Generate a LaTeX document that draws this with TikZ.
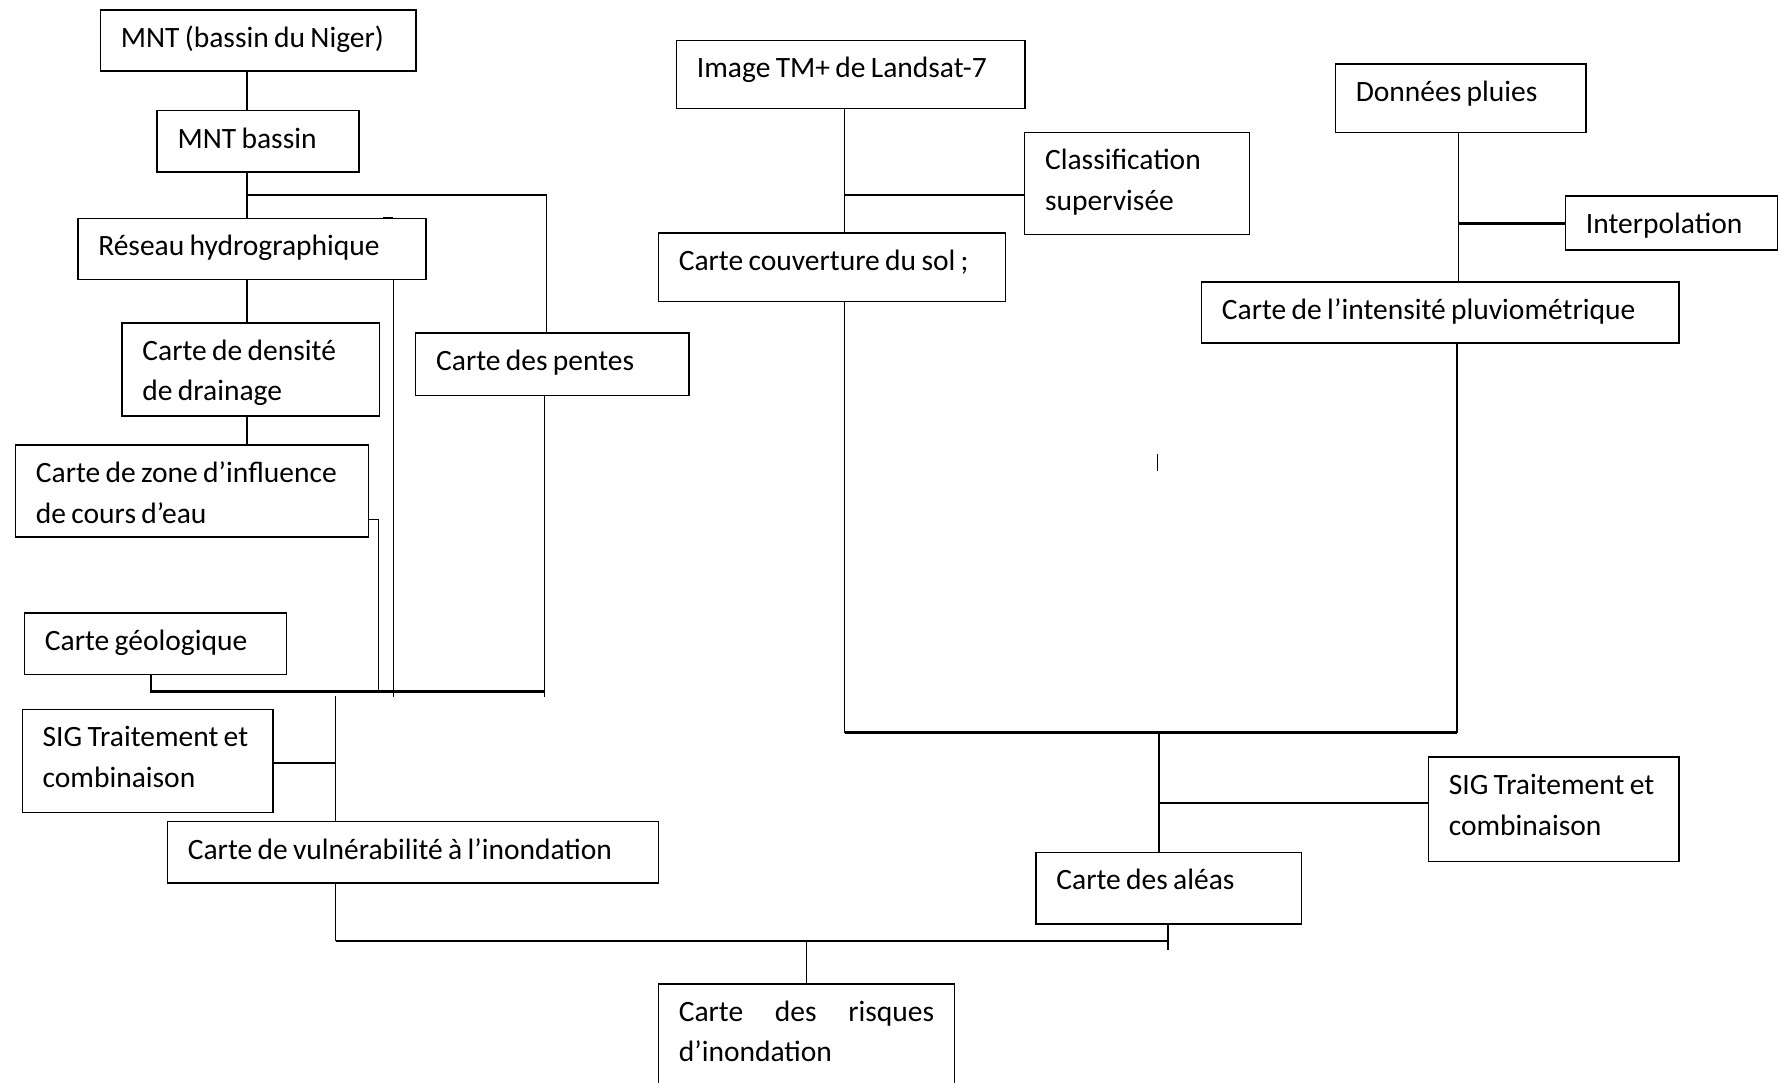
\documentclass[tikz,border=0pt]{standalone}
\usepackage{fontspec}
\setmainfont{Carlito}
\usetikzlibrary{calc}

\newcommand\serre{\spaceskip=0.047cm plus 0.02cm minus 0.005cm\relax}

\begin{document}
\begin{tikzpicture}[
    x=0.01cm, y=-0.01cm,
    bloc/.style 2 args={draw, line width=0.37pt, anchor=north west,
        inner xsep=0.18cm, inner ysep=0pt, align=left, text width=#1,
        text height=0.33cm, text depth=#2,
        font=\fontsize{7.4}{10.2}\selectfont, execute at begin node=\serre},
    lien/.style={line width=0.36pt},
    branche/.style={line width=0.6pt}
]

\useasboundingbox (0,0) rectangle (1568,955);

% Partie gauche : MNT et cartes dérivées
\node[bloc={2.42cm}{0.21cm}] (mnt) at (88,8) {MNT (bassin du Niger)};
\node[bloc={1.42cm}{0.21cm}] (bassin) at (138,97) {MNT bassin};
\node[bloc={2.71cm}{0.21cm}] (reseau) at (68,192) {Réseau hydrographique};
\node[bloc={1.91cm}{0.49cm}] (densite) at (107,284) {Carte de densité\\de drainage};
\node[bloc={2.75cm}{0.48cm}] (zone) at (13,392) {Carte de zone d’influence\\de cours d’eau};
\node[bloc={2.05cm}{0.22cm}] (pentes) at (366,293) {Carte des pentes};
\node[bloc={1.95cm}{0.21cm}] (geol) at (21,540) {Carte géologique};
\node[bloc={1.85cm}{0.58cm}] (sigg) at (19,625) {SIG Traitement et\\combinaison};
\node[bloc={3.97cm}{0.21cm}] (vuln) at (147,724) {Carte de vulnérabilité à l’inondation};

% Partie droite : occupation du sol et pluies
\node[bloc={2.71cm}{0.27cm}] (image) at (596,35) {Image TM+ de Landsat-7};
\node[bloc={1.62cm}{0.57cm}] (classif) at (903,116) {Classification\\supervisée};
\node[bloc={2.70cm}{0.27cm}] (couvert) at (580,205) {Carte couverture du sol ;};
\node[bloc={1.85cm}{0.27cm}] (pluies) at (1177,56) {Données pluies};
\node[bloc={1.51cm}{0.15cm}] (interp) at (1380,172) {Interpolation};
\node[bloc={3.85cm}{0.21cm}] (intens) at (1059,248) {Carte de l’intensité pluviométrique};
\node[bloc={1.85cm}{0.59cm}] (sigd) at (1259,667) {SIG Traitement et\\combinaison};
\node[bloc={1.98cm}{0.30cm}] (aleas) at (913,751) {Carte des aléas};

% Résultat final
\node[bloc={2.25cm}{0.58cm}] (risques) at (580,867)
    {\hbox to 2.25cm{Carte\hfill des\hfill risques}\\d’inondation};

% Points de jonction
\coordinate (cA) at (218,172);
\coordinate (cB) at (482,172);
\coordinate (cG) at (133,610);
\coordinate (cP) at (480,610);
\coordinate (cP2) at (480,615);
\coordinate (cR) at (347,615);
\coordinate (cZ) at (334,458);
\coordinate (cV) at (296,614);
\coordinate (cS) at (296,673);
\coordinate (cF) at (296,830);
\coordinate (cH) at (1030,830);
\coordinate (cH2) at (1030,838);
\coordinate (cI) at (745,172);
\coordinate (cK) at (745,646);
\coordinate (cL) at (1285,646);
\coordinate (cM) at (1286,197);
\coordinate (cN) at (1022,646);
\coordinate (cQ) at (1022,708);
\coordinate (cT) at (1021,400);

% Liaisons à gauche
\draw[lien] (mnt.south -| cA) -- (bassin.north -| cA);
\draw[lien] (bassin.south -| cA) -- (reseau.north -| cA);
\draw[branche] (cA) -- (cB);
\draw[lien] (cB) -- (pentes.north -| cB);
\draw[lien] (reseau.south -| cA) -- (densite.north -| cA);
\draw[lien] (densite.south -| cA) -- (zone.north -| cA);
\draw[lien] (reseau.south -| cR) -- (cR);
\draw[lien] (pentes.south -| cP) -- (cP2);
\draw[lien] (zone.east |- cZ) -- (cZ) -- (cZ |- cG);
\draw[branche] (geol.south -| cG) -- (cG) -- (cP);
\draw[lien] (cV) -- (vuln.north -| cV);
\draw[branche] (sigg.east |- cS) -- (cS);
\draw[lien] (reseau.north -| 338,0) -- (reseau.north -| cR); % petit trait

% Liaisons à droite
\draw[lien] (image.south -| cI) -- (couvert.north -| cI);
\draw[branche] (cI) -- (classif.west |- cI);
\draw[lien] (pluies.south -| cM) -- (intens.north -| cM);
\draw[branche] (cM) -- (interp.west |- cM);
\draw[lien] (couvert.south -| cK) -- (cK);
\draw[branche] (cK) -- (cL);
\draw[lien] (cL) -- (intens.south -| cL);
\draw[lien] (cN) -- (aleas.north -| cN);
\draw[branche] (cQ) -- (sigd.west |- cQ);
\draw[lien] (cT) -- ++(0,15); % trait isolé

% Vers la carte des risques
\draw[lien] (vuln.south -| cF) -- (cF);
\draw[branche] (cF) -- (cH);
\draw[lien] (aleas.south -| cH) -- (cH2);
\draw[lien] (risques.north |- cF) -- (risques.north);

\end{tikzpicture}
\end{document}
